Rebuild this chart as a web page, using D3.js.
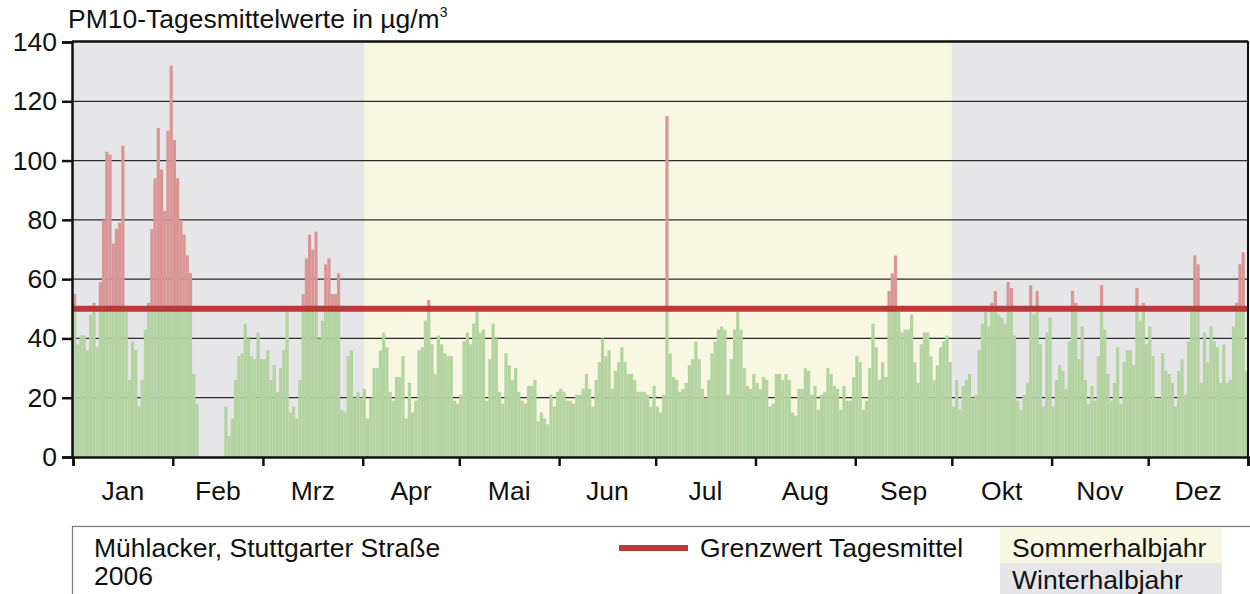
<!DOCTYPE html>
<html><head><meta charset="utf-8">
<script src="https://cdn.jsdelivr.net/npm/d3@7/dist/d3.min.js"></script>
<style>
html,body{margin:0;padding:0;background:#fff;}
svg{display:block;font-family:"Liberation Sans",Arial,Helvetica,sans-serif;}
</style></head>
<body><svg id="c" width="1250" height="594"></svg>
<script>
// ---- data ----
const monthLabels = ["Jan","Feb","Mrz","Apr","Mai","Jun","Jul","Aug","Sep","Okt","Nov","Dez"];
const jan = [55,38,41,41,36,48,52,37,59,80,103,102,72,77,79,105,49,26,39,36,17,26,43,52,77,94,111,97,83,110,132];
const feb = [107,94,80,75,68,62,28,18,null,null,null,null,null,null,null,null,17,7,13,26,34,35,45,40,34,33,42,33];
const mrz = [33,36,26,31,22,30,36,49,15,17,13,26,55,67,75,70,76,40,46,65,67,55,55,62,16,15,34,36,20,22,20];
const apr = [23,13,20,30,30,36,42,37,22,19,27,27,34,13,25,15,19,36,37,46,53,38,28,41,38,35,34,34,19,18];
const mai = [21,39,42,38,45,49,42,43,19,33,45,40,22,18,35,31,26,30,22,19,18,24,24,26,12,15,13,11,21,17,22];
const jun = [23,22,19,19,18,21,21,23,28,23,17,26,32,40,34,36,23,29,32,37,32,28,28,26,22,22,22,21,17,24];
const jul = [17,15,21,115,35,27,26,22,23,25,31,33,39,33,23,20,26,35,39,43,44,43,21,33,43,49,43,30,24,23,28];
const aug = [25,23,27,26,17,18,28,28,26,28,26,15,14,23,23,30,29,21,24,16,21,22,30,28,24,23,16,24,19,19,27];
const sep = [34,32,16,19,30,45,37,26,32,27,56,62,68,49,42,43,43,48,32,25,38,42,42,34,26,31,37,39,41,32];
const okt = [17,26,16,24,26,28,20,21,36,45,49,44,52,56,48,47,45,59,57,41,19,16,21,25,58,48,56,38,17,42,47];
const nov = [17,26,31,29,23,39,56,52,33,44,26,18,24,19,34,58,43,28,19,25,37,18,32,36,36,31,57,46,52,38];
const dez = [44,34,20,20,35,29,28,25,17,29,33,21,39,49,68,65,25,42,32,44,39,37,25,38,25,26,44,52,65,69,29];
const yTicks = [0,20,40,60,80,100,120,140];
const limitValue = 50;
const titleText = "PM10-Tagesmittelwerte in µg/m";
const stationText = "Mühlacker, Stuttgarter Straße";
const yearText = "2006";
const limitLabel = "Grenzwert Tagesmittel";
const summerLabel = "Sommerhalbjahr";
const winterLabel = "Winterhalbjahr";

const monthsData = [jan,feb,mrz,apr,mai,jun,jul,aug,sep,okt,nov,dez];
const values = monthsData.flat();
const monthStarts = [];
{ let s=0; monthsData.forEach(m=>{monthStarts.push(s); s+=m.length;}); monthStarts.push(s); }
const nDays = values.length;

// ---- colours ----
const cWinter="#e6e6e9", cSummer="#f8f7e2", cGreen="#b3d3a1", cRed="#d99695", cLimit="#b93a36";
const FS = 26.5;

const svg = d3.select("#c");
const x = d3.scaleLinear().domain([0,nDays]).range([73,1248]);
const y = d3.scaleLinear().domain([0,140]).range([457,42]);

// backgrounds
const sumStart = monthStarts[3], sumEnd = monthStarts[9];
svg.append("rect").attr("x",x(0)).attr("y",y(140)).attr("width",x(nDays)-x(0)).attr("height",y(0)-y(140)).attr("fill",cWinter);
svg.append("rect").attr("x",x(sumStart)+1.5).attr("y",y(140)).attr("width",x(sumEnd)-x(sumStart)-1.5).attr("height",y(0)-y(140)).attr("fill",cSummer);

// grid
svg.append("g").selectAll("line").data(yTicks.filter(d=>d>0&&d<140)).join("line")
  .attr("x1",x(0)).attr("x2",x(nDays)).attr("y1",d=>y(d)).attr("y2",d=>y(d))
  .attr("stroke","#2b2b2b").attr("stroke-width",1.2);

// bars
const days = values.map((v,i)=>({i,v})).filter(d=>d.v!=null);
svg.append("g").selectAll("rect").data(days).join("rect")
  .attr("x",d=>x(d.i)).attr("width",d=>x(d.i+1)-x(d.i))
  .attr("y",d=>y(Math.min(d.v,limitValue))).attr("height",d=>y(0)-y(Math.min(d.v,limitValue)))
  .attr("fill",cGreen);
svg.append("g").selectAll("rect").data(days.filter(d=>d.v>limitValue)).join("rect")
  .attr("x",d=>x(d.i)).attr("width",d=>x(d.i+1)-x(d.i))
  .attr("y",d=>y(d.v)).attr("height",d=>y(limitValue)-y(d.v))
  .attr("fill",cRed);

// limit line
svg.append("line").attr("x1",x(0)).attr("x2",x(nDays)).attr("y1",y(limitValue)).attr("y2",y(limitValue))
  .attr("stroke",cLimit).attr("stroke-width",6);

// frame
svg.append("line").attr("x1",72).attr("x2",1248).attr("y1",41.5).attr("y2",41.5).attr("stroke","#111").attr("stroke-width",2.5);
svg.append("line").attr("x1",1248).attr("x2",1248).attr("y1",41).attr("y2",457).attr("stroke","#111").attr("stroke-width",2);

// y axis
const yAxis = d3.axisLeft(y).tickValues(yTicks).tickSize(10).tickPadding(5);
const gy = svg.append("g").attr("transform","translate(72,0)").call(yAxis);
gy.select(".domain").attr("stroke","#111").attr("stroke-width",2.5);
gy.selectAll(".tick line").attr("stroke","#111").attr("stroke-width",2.5);
gy.selectAll(".tick text").attr("font-size",FS).attr("fill","#111").attr("font-family","Liberation Sans, Arial, sans-serif");

// x axis
const xAxis = d3.axisBottom(x).tickValues(monthStarts).tickSize(9).tickFormat("");
const gx = svg.append("g").attr("transform","translate(0,457)").call(xAxis);
gx.select(".domain").attr("stroke","#111").attr("stroke-width",2.5);
gx.selectAll(".tick line").attr("stroke","#111").attr("stroke-width",2.5);
svg.append("g").selectAll("text").data(monthLabels).join("text")
  .attr("x",(d,i)=>(x(monthStarts[i])+x(monthStarts[i+1]))/2).attr("y",500)
  .attr("text-anchor","middle").attr("font-size",FS).attr("fill","#111").text(d=>d);

// title
const t = svg.append("text").attr("x",68).attr("y",28).attr("font-size",FS).attr("fill","#111").text(titleText);
t.append("tspan").attr("dy",-11).attr("font-size",14).text("3");

// legend
svg.append("rect").attr("x",72.5).attr("y",526.5).attr("width",1200).attr("height",100).attr("fill","#fff").attr("stroke","#7a7a7a").attr("stroke-width",1.2);
svg.append("text").attr("x",94).attr("y",557).attr("font-size",FS).attr("fill","#111").text(stationText);
svg.append("text").attr("x",94).attr("y",585).attr("font-size",FS).attr("fill","#111").text(yearText);
svg.append("line").attr("x1",619).attr("x2",688).attr("y1",548).attr("y2",548).attr("stroke",cLimit).attr("stroke-width",6);
svg.append("text").attr("x",700).attr("y",557).attr("font-size",FS).attr("fill","#111").text(limitLabel);
svg.append("rect").attr("x",1000).attr("y",528).attr("width",222).attr("height",35).attr("fill",cSummer);
svg.append("rect").attr("x",1000).attr("y",563).attr("width",222).attr("height",31).attr("fill",cWinter);
svg.append("text").attr("x",1012).attr("y",557).attr("font-size",FS).attr("fill","#111").text(summerLabel);
svg.append("text").attr("x",1012).attr("y",589).attr("font-size",FS).attr("fill","#111").text(winterLabel);
</script></body></html>
